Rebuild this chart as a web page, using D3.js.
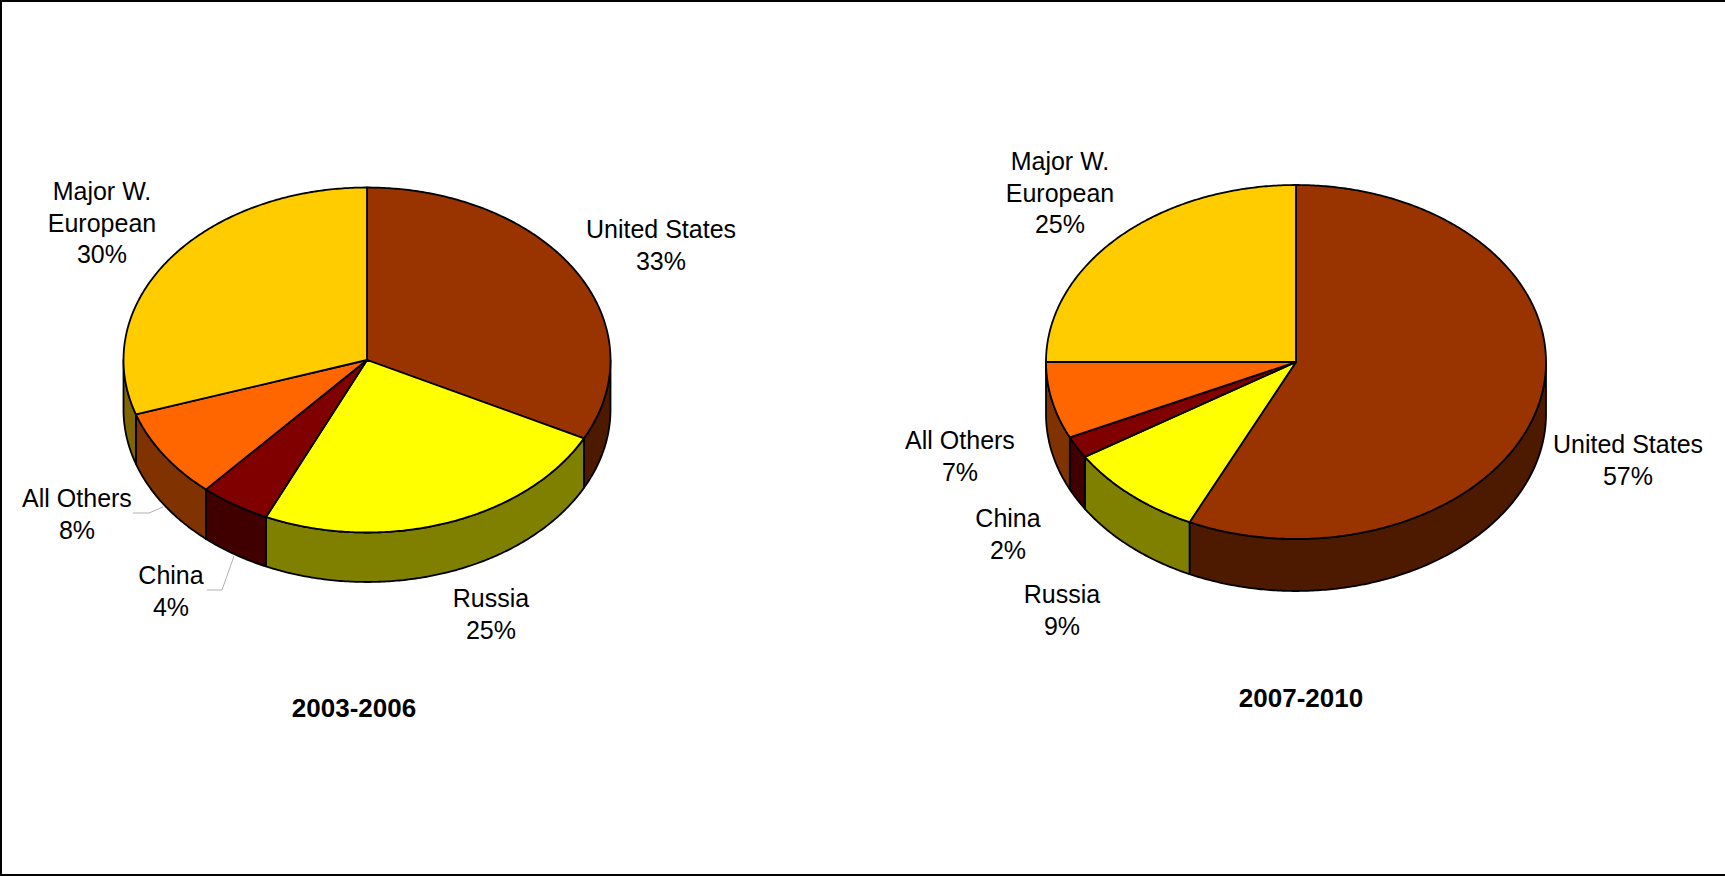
<!DOCTYPE html>
<html>
<head>
<meta charset="utf-8">
<title>Share by period</title>
<script src="https://cdn.jsdelivr.net/npm/d3@7"></script>
<style>
  html, body { margin: 0; padding: 0; background: #fff; }
  svg { display: block; }
  text { font-family: "Liberation Sans", Arial, sans-serif; fill: #000; }
</style>
</head>
<body>
<svg></svg>
<script>
"use strict";

var categories = ["United States", "Russia", "China", "All Others", "Major W. European"];
// printed percentages
var labels2003 = [33, 25, 4, 8, 30];
var labels2007 = [57, 9, 2, 7, 25];
// slice sizes as measured on the pies, the 2003 ones differ a bit from the print
var shares2003 = [32.5, 24.3, 4.7, 8.4, 30.1];
var shares2007 = [57, 9, 2, 7, 25];
var topColors = ["#993300", "#ffff00", "#800000", "#ff6600", "#ffcc00"];
var sideColors = ["#4d1a00", "#808000", "#400000", "#803300", "#806600"];

var width = 1725,
    height = 876;

var svg = d3.select("svg")
    .attr("width", width)
    .attr("height", height);

// page frame, no line on the right in the original
svg.append("path")
    .attr("d", "M1,876V1H1725M0,875H1725")
    .attr("fill", "none")
    .attr("stroke", "#000")
    .attr("stroke-width", 2);

// the pie generator runs clockwise from 12 o'clock, keeping the source order
var pie = d3.pie().sort(null);
var FRONT_START = Math.PI / 2,
    FRONT_END = Math.PI * 3 / 2;

function drawPie(config) {
    var g = svg.append("g");
    var slices = pie(config.shares);

    function px(a) { return config.cx + config.rx * Math.sin(a); }
    function py(a) { return config.cy - config.ry * Math.cos(a); }

    function arcPoints(a0, a1) {
        var steps = Math.max(2, Math.ceil((a1 - a0) / 0.01));
        return d3.range(steps + 1).map(function (i) {
            var a = a0 + (a1 - a0) * i / steps;
            return [px(a), py(a)];
        });
    }

    var line = d3.line();

    // walls first, only the part of each slice that faces the viewer
    slices.forEach(function (s) {
        var a0 = Math.max(s.startAngle, FRONT_START),
            a1 = Math.min(s.endAngle, FRONT_END);
        if (a1 <= a0) return;
        var upper = arcPoints(a0, a1);
        var lower = upper.map(function (p) { return [p[0], p[1] + config.depth]; }).reverse();
        g.append("path")
            .attr("d", line(upper.concat(lower)) + "Z")
            .attr("fill", sideColors[s.index])
            .attr("stroke", "#000")
            .attr("stroke-width", 1.8)
            .attr("stroke-linejoin", "round");
    });

    slices.forEach(function (s) {
        var pts = [[config.cx, config.cy]].concat(arcPoints(s.startAngle, s.endAngle));
        g.append("path")
            .attr("d", line(pts) + "Z")
            .attr("fill", topColors[s.index])
            .attr("stroke", "#000")
            .attr("stroke-width", 1.8)
            .attr("stroke-linejoin", "round");
    });

    config.leaders.forEach(function (pts) {
        g.append("path")
            .attr("d", line(pts))
            .attr("fill", "none")
            .attr("stroke", "#b0b0b0")
            .attr("stroke-width", 1);
    });

    config.labels.forEach(function (l, i) {
        var t = g.append("text")
            .attr("text-anchor", "middle")
            .attr("font-size", 25);
        var rows = l.lines.concat([config.printed[i] + "%"]);
        rows.forEach(function (row, j) {
            t.append("tspan")
                .attr("x", l.x)
                .attr("y", l.y + j * config.leading)
                .text(row);
        });
    });

    g.append("text")
        .attr("x", config.titleX)
        .attr("y", config.titleY)
        .attr("text-anchor", "middle")
        .attr("font-size", 26)
        .attr("font-weight", "bold")
        .text(config.title);
}

drawPie({
    title: "2003-2006",
    titleX: 354,
    titleY: 717,
    shares: shares2003,
    printed: labels2003,
    cx: 367,
    cy: 360,
    rx: 243.5,
    ry: 172.5,
    depth: 49.5,
    leading: 31.5,
    labels: [
        { lines: ["United States"], x: 661, y: 238 },
        { lines: ["Russia"], x: 491, y: 607 },
        { lines: ["China"], x: 171, y: 584 },
        { lines: ["All Others"], x: 77, y: 507 },
        { lines: ["Major W.", "European"], x: 102, y: 200 }
    ],
    leaders: [
        [[133, 513], [149, 513], [163, 507]],
        [[207, 590], [222, 590], [234, 556]]
    ]
});

drawPie({
    title: "2007-2010",
    titleX: 1301,
    titleY: 707,
    shares: shares2007,
    printed: labels2007,
    cx: 1296,
    cy: 362,
    rx: 250,
    ry: 177,
    depth: 52,
    leading: 31.5,
    labels: [
        { lines: ["United States"], x: 1628, y: 453 },
        { lines: ["Russia"], x: 1062, y: 603 },
        { lines: ["China"], x: 1008, y: 527 },
        { lines: ["All Others"], x: 960, y: 449 },
        { lines: ["Major W.", "European"], x: 1060, y: 170 }
    ],
    leaders: []
});
</script>
</body>
</html>
